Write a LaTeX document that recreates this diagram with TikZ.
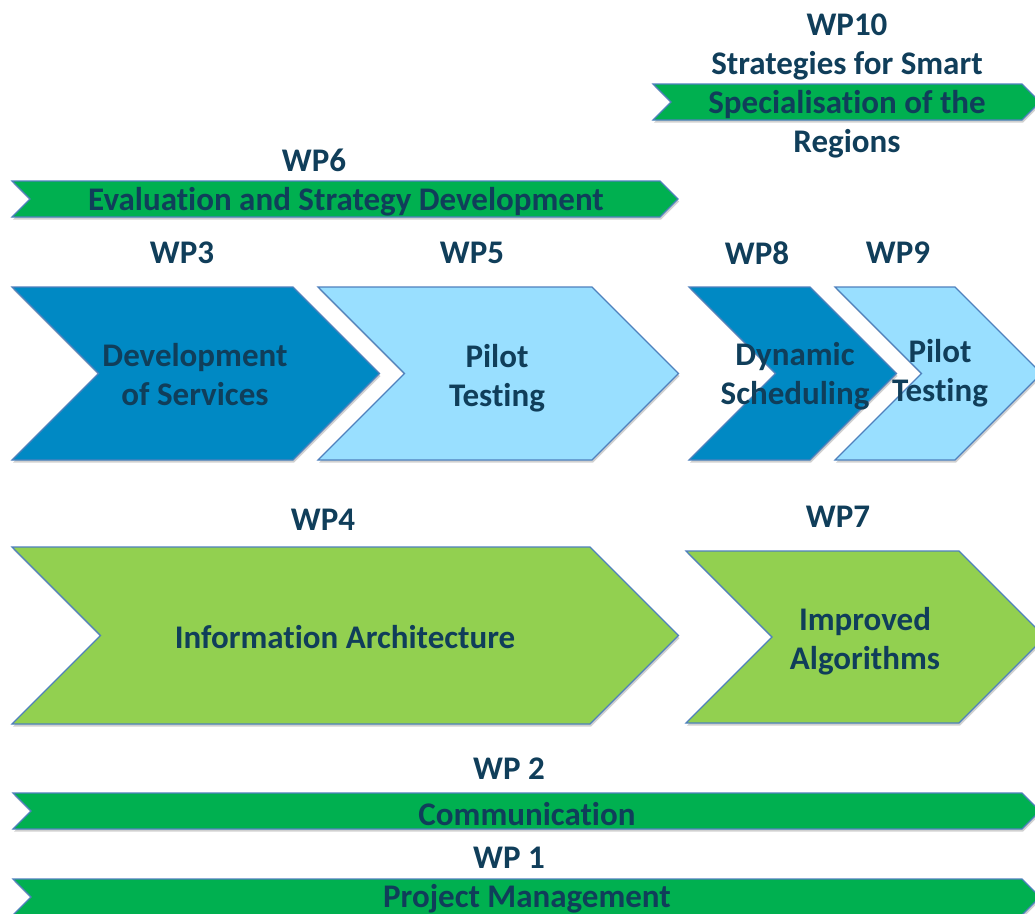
\documentclass[tikz,border=0pt]{standalone}
\usepackage{fontspec}
\setmainfont{Carlito}[Ligatures=NoCommon]
\usetikzlibrary{shadows}
\usepackage{xcolor}

\definecolor{wpdark}{RGB}{0,137,196}
\definecolor{wplight}{RGB}{153,223,255}
\definecolor{wpleaf}{RGB}{146,208,80}
\definecolor{wpgreen}{RGB}{0,176,80}
\definecolor{wpline}{RGB}{79,129,189}
\definecolor{wptext}{RGB}{16,62,90}

\tikzset{
    wpshape/.style={draw=wpline, line width=1.2pt, line join=miter,
        drop shadow={shadow xshift=1pt, shadow yshift=-2.5pt, opacity=0.3, fill=black!60}},
    wptxt/.style={font=\bfseries\fontsize{33}{39}\selectfont, text=wptext, align=center, inner sep=0pt}
}

% chevron: style, left x, right x, top y, bottom y
\newcommand{\wpchevron}[5]{%
    \pgfmathsetmacro{\dep}{(#5-#4)/2}
    \pgfmathsetmacro{\mid}{(#4+#5)/2}
    \filldraw[wpshape, #1] (#2,#4) -- (#3,#4) -- (#3+\dep,\mid) -- (#3,#5)
        -- (#2,#5) -- (#2+\dep,\mid) -- cycle;
}

\begin{document}
\begin{tikzpicture}[x=1pt, y=-1pt]
        \clip (0,0) rectangle (1035,913);
        \fill[white] (0,0) rectangle (1035,913);

        % bands
        \wpchevron{fill=wpgreen}{653}{1022}{84}{120}
        \wpchevron{fill=wpgreen}{12}{660}{181}{217}
        \wpchevron{fill=wpgreen}{13}{1022}{793}{829}
        \wpchevron{fill=wpgreen}{13}{1022}{879}{915}

        % chevrons
        \wpchevron{fill=wpdark}{12}{293}{287}{460}
        \wpchevron{fill=wplight}{318}{592}{287}{460}
        \wpchevron{fill=wpdark}{689}{810}{287}{460}
        \wpchevron{fill=wplight}{835}{955}{287}{460}
        \wpchevron{fill=wpleaf}{12}{590}{547}{724}
        \wpchevron{fill=wpleaf}{686}{959}{551}{723}

        % labels
        \node[wptxt] (wp10) at (847,25) {WP10};
        \node[wptxt] (wp10t) at (847,105) {Strategies for Smart\\Specialisation of the\\Regions};
        \node[wptxt] (wp6) at (314,160) {WP6};
        \node[wptxt] (wp6t) at (346,202) {Evaluation and Strategy Development};
        \node[wptxt] (wp3) at (182,253) {WP3};
        \node[wptxt] (wp5) at (472,253) {WP5};
        \node[wptxt] (wp8) at (757,253) {WP8};
        \node[wptxt] (wp9) at (898,253) {WP9};
        \node[wptxt] (wp3t) at (195,375) {Development\\of Services};
        \node[wptxt] (wp5t) at (497,378) {Pilot\\Testing};
        \node[wptxt] (wp8t) at (795,376) {Dynamic\\Scheduling};
        \node[wptxt] (wp9t) at (940,373) {Pilot\\Testing};
        \node[wptxt] (wp4) at (323,520) {WP4};
        \node[wptxt] (wp7) at (838,517) {WP7};
        \node[wptxt] (wp4t) at (345,637) {Information Architecture};
        \node[wptxt] (wp7t) at (865,641) {Improved\\Algorithms};
        \node[wptxt] (wp2) at (509,769) {WP 2};
        \node[wptxt] (wp2t) at (527,814) {Communication};
        \node[wptxt] (wp1) at (509,858) {WP 1};
        \node[wptxt] (wp1t) at (527,899) {Project Management};
\end{tikzpicture}
\end{document}
